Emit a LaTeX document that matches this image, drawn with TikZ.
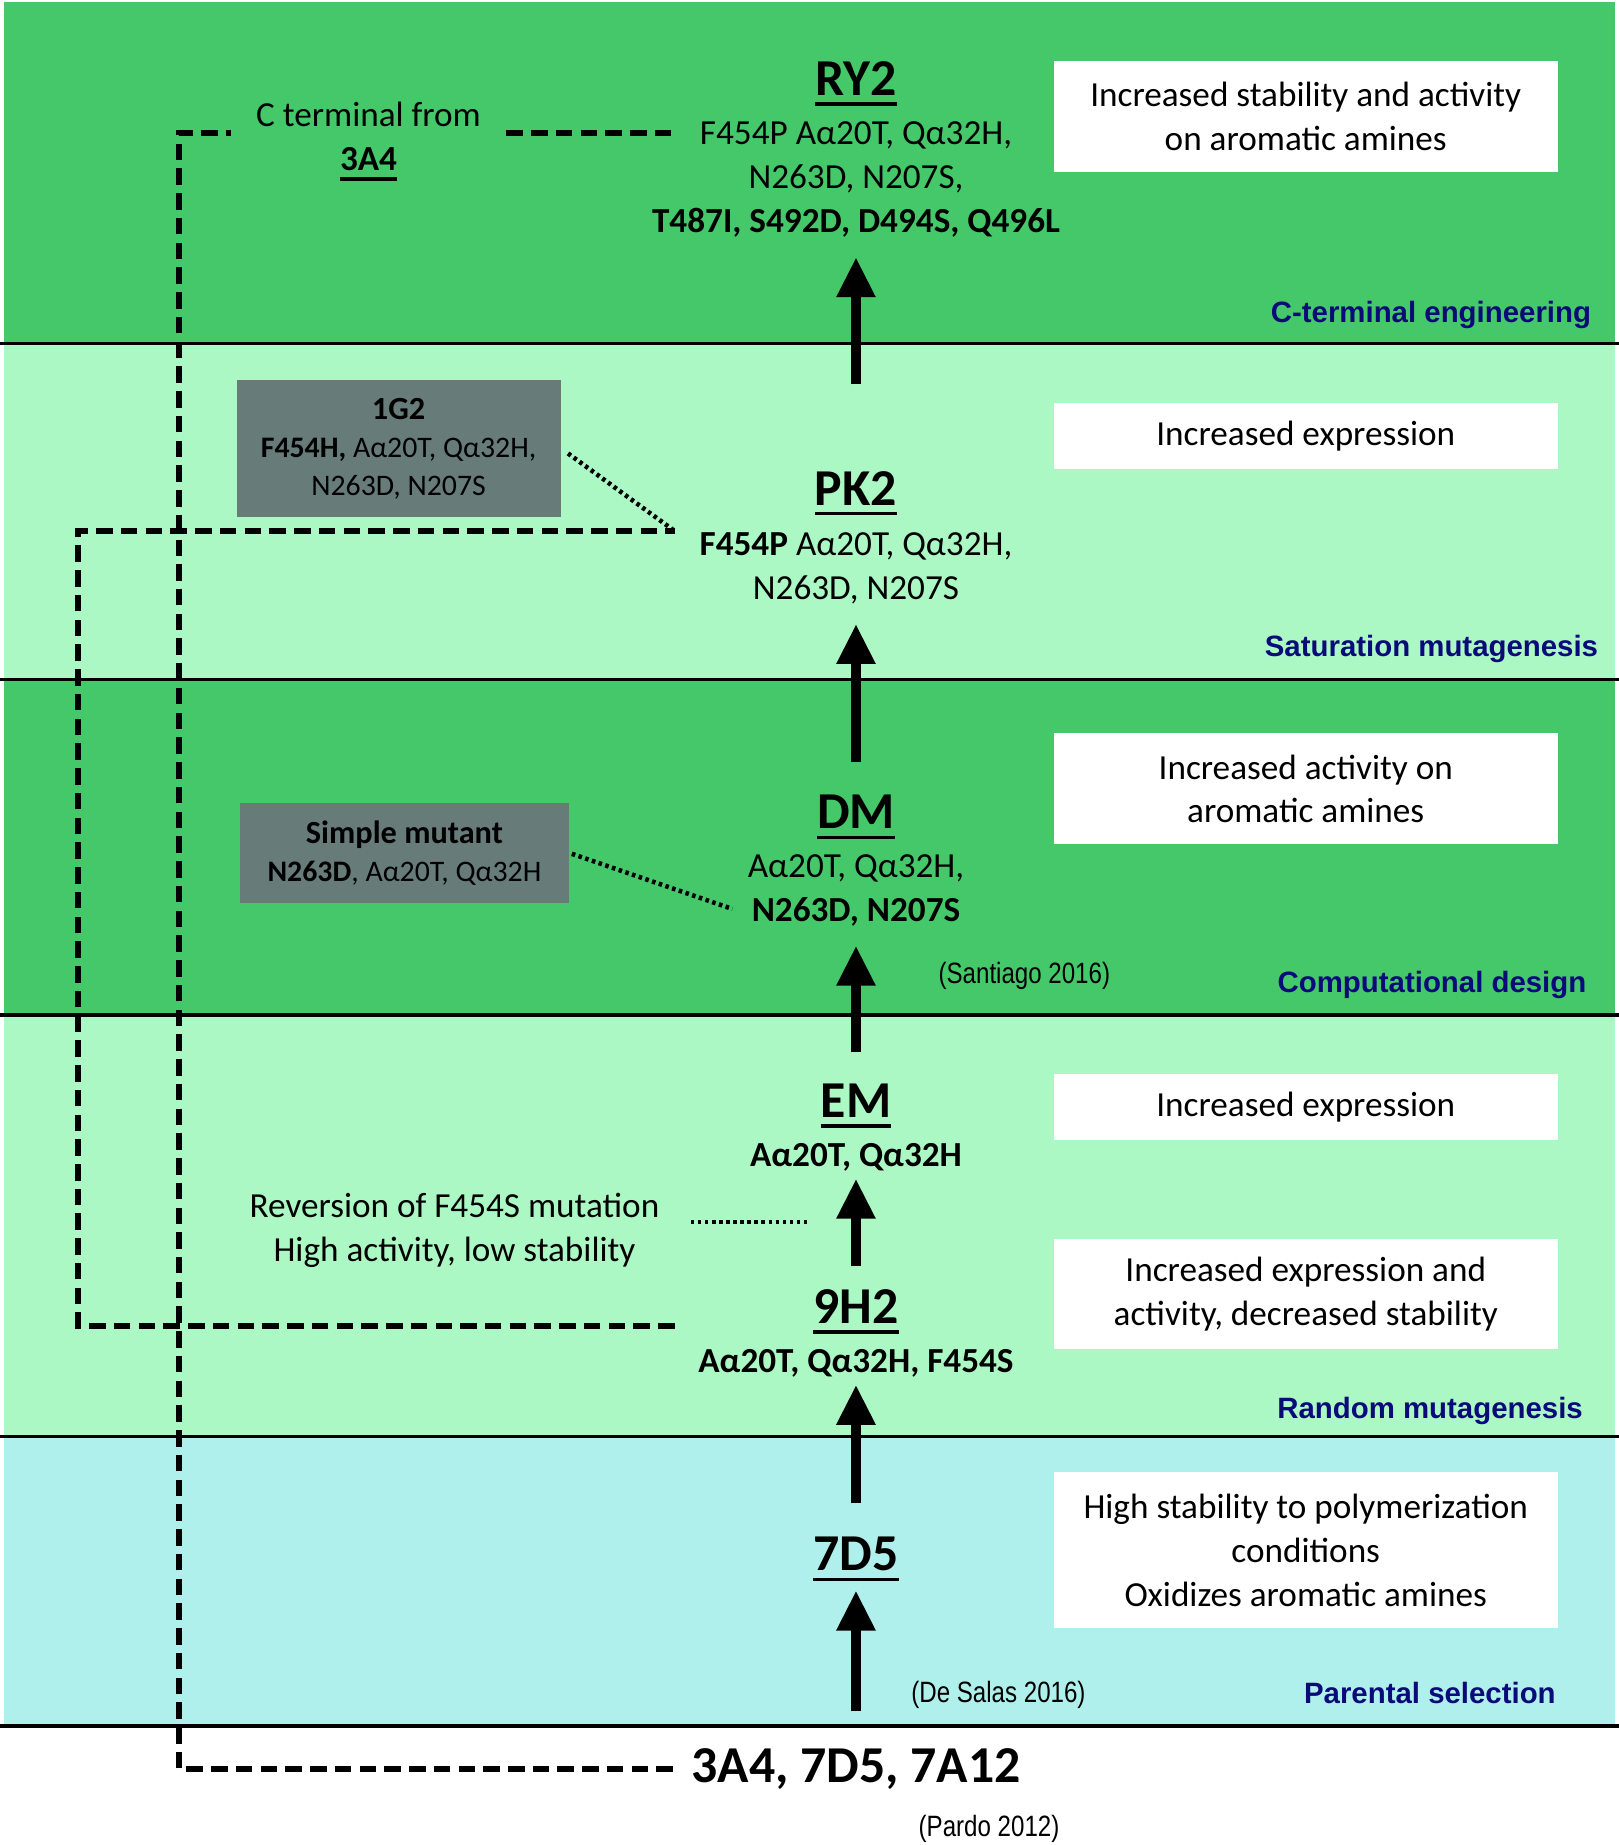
\documentclass[tikz,border=0pt]{standalone}
\usepackage{fontspec}
\setmainfont{Carlito}
\newfontfamily\stagefont{Liberation Sans}
\newfontfamily\narrowfont[FakeStretch=0.82]{Liberation Sans}
\usetikzlibrary{arrows.meta,positioning}
\definecolor{dkgreen}{RGB}{69,200,106}
\definecolor{ltgreen}{RGB}{172,248,196}
\definecolor{ltcyan}{RGB}{176,240,236}
\definecolor{boxgrey}{RGB}{103,124,121}
\definecolor{stagenavy}{RGB}{10,10,120}
\newcommand{\ulname}[1]{\vtop{\hbox{#1}\kern1.6pt\hrule height 0.9pt}}
\tikzset{%
	titl/.style={font=\fontsize{12.5}{15}\selectfont\bfseries, anchor=base, inner sep=0pt},
	mut/.style={font=\fontsize{8.5}{10.6}\selectfont, align=center, anchor=north, inner sep=0pt},
	info/.style={fill=white, minimum width=4.28cm, align=center, inner sep=0pt, font=\fontsize{8.5}{10.6}\selectfont},
	greybox/.style={fill=boxgrey, align=center, inner sep=0pt, font=\fontsize{7.2}{9.2}\selectfont},
	stage/.style={font=\stagefont\bfseries\fontsize{7.1}{8.5}\selectfont, text=stagenavy, anchor=base east, inner sep=0pt},
	citetext/.style={font=\narrowfont\fontsize{7.1}{8.5}\selectfont, anchor=base, inner sep=0pt},
	uparrow/.style={line width=2.6pt, -{Triangle[width=0.31cm,length=0.34cm]}},
	dashline/.style={line width=1.35pt, dash pattern=on 0.14cm off 0.07cm},
	dotline/.style={line width=1.1pt, dash pattern=on 0.03cm off 0.03cm},
	sep/.style={line width=0.8pt}}
\begin{document}
\begin{tikzpicture}[x=0.01cm, y=-0.01cm]
		\useasboundingbox[fill=white] (0,0) rectangle (1375,1567);
		% stage bands
		\fill[dkgreen] (3,2) rectangle (1372,292);
		\fill[ltgreen] (3,292) rectangle (1372,577);
		\fill[dkgreen] (3,577) rectangle (1372,862);
		\fill[ltgreen] (3,862) rectangle (1372,1220);
		\fill[ltcyan] (3,1220) rectangle (1372,1466);
		\foreach \y in {292,577,862,1220,1466}
			\draw[sep] (0,\y) -- (1375,\y);
		
		% variants
		\node[titl] (ry2) at (727,81) {\ulname{RY2}};
		\node[mut] (ry2mut) at (727,103) {F454P Aα20T, Qα32H,\\N263D, N207S,\\\textbf{T487I, S492D, D494S, Q496L}};
		\node[titl] (pk2) at (727,429) {\ulname{PK2}};
		\node[mut] (pk2mut) at (727,452) {\textbf{F454P} Aα20T, Qα32H,\\N263D, N207S};
		\node[titl] (dm) at (727,704) {\ulname{DM}};
		\node[mut] (dmmut) at (727,725) {Aα20T, Qα32H,\\\textbf{N263D, N207S}};
		\node[titl] (em) at (727,949) {\ulname{EM}};
		\node[mut] (emmut) at (727,970) {\textbf{Aα20T, Qα32H}};
		\node[titl] (nineh) at (727,1124) {\ulname{9H2}};
		\node[mut] (ninehmut) at (727,1145) {\textbf{Aα20T, Qα32H, F454S}};
		\node[titl] (sevend) at (727,1334) {\ulname{7D5}};
		\node[titl] (parents) at (727,1514) {3A4, 7D5, 7A12};
		
		% properties
		\node[info, minimum height=0.94cm] (infory) at (1109,99) {Increased stability and activity\\on aromatic amines};
		\node[info, minimum height=0.56cm] (infopk) at (1109,370) {Increased expression};
		\node[info, minimum height=0.94cm] (infodm) at (1109,670) {Increased activity on\\aromatic amines};
		\node[info, minimum height=0.56cm] (infoem) at (1109,940) {Increased expression};
		\node[info, minimum height=0.94cm] (infonine) at (1109,1099) {Increased expression and\\activity, decreased stability};
		\node[info, minimum height=1.33cm] (infoseven) at (1109,1316.5) {High stability to polymerization\\conditions\\Oxidizes aromatic amines};
		
		% side variants and notes
		\node[greybox, minimum width=2.75cm, minimum height=1.16cm] (onegtwo) at (338.5,381) {{\fontsize{7.8}{9.6}\selectfont\textbf{1G2}}\\\textbf{F454H,} Aα20T, Qα32H,\\N263D, N207S};
		\node[greybox, minimum width=2.79cm, minimum height=0.85cm] (simple) at (343.5,724.5) {{\fontsize{7.8}{9.4}\selectfont\textbf{Simple mutant}}\\\textbf{N263D}, Aα20T, Qα32H};
		\node[mut] (cterm) at (313,86) {C terminal from\\\ulname{\textbf{3A4}}};
		\node[mut] (revert) at (386,1013) {Reversion of F454S mutation\\High activity, low stability};
		
		% stages
		\node[stage] (lblct) at (1352,274) {C-terminal engineering};
		\node[stage] (lblsat) at (1358,558) {Saturation mutagenesis};
		\node[stage] (lblcomp) at (1348,843) {Computational design};
		\node[stage] (lblrand) at (1345,1205) {Random mutagenesis};
		\node[stage] (lblpar) at (1322,1447) {Parental selection};
		
		% references
		\node[citetext] (citesant) at (870,835) {(Santiago 2016)};
		\node[citetext] (citedes) at (848,1446) {(De Salas 2016)};
		\node[citetext] (citepardo) at (840,1560) {(Pardo 2012)};
		
		\coordinate (ctop) at (152,113);
		\coordinate (ry2in) at (575,113);
		\coordinate (pk2in) at (573,451);
		\coordinate (lcorner) at (66,451);
		\coordinate (ninein) at (573,1126);
		\coordinate (dmin) at (622,772);
		\coordinate (revtip) at (688,1038);
		
		\draw[uparrow, shorten <=0.73cm, shorten >=0.16cm] (pk2.north) -- (ry2mut.south);
		\draw[uparrow, shorten <=0.28cm, shorten >=0.16cm] (dm.north) -- (pk2mut.south);
		\draw[uparrow, shorten <=0.26cm, shorten >=0.16cm] (em.north) -- (dmmut.south);
		\draw[uparrow, shorten <=0.19cm, shorten >=0.06cm] (nineh.north) -- (emmut.south);
		\draw[uparrow, shorten <=0.28cm, shorten >=0.06cm] (sevend.north) -- (ninehmut.south);
		\draw[uparrow, shorten <=0.31cm, shorten >=0.07cm] (parents.north) -- (sevend.south);
		
		\draw[dashline, shorten <=0.15cm, shorten >=0.21cm] (parents.west) -| (ctop) -- (cterm.west |- ctop);
		\draw[dashline, shorten <=0.21cm] (cterm.east |- ctop) -- (ry2in);
		\draw[dashline] (ninein) -| (lcorner) -- (pk2in);
		\draw[dotline, shorten <=0.07cm] (onegtwo.east) -- (pk2in);
		\draw[dotline, shorten <=0.02cm] (simple.east) -- (dmin);
		\draw[dotline, shorten <=0.26cm] (revert.east |- revtip) -- (revtip);
	\end{tikzpicture}
\end{document}
